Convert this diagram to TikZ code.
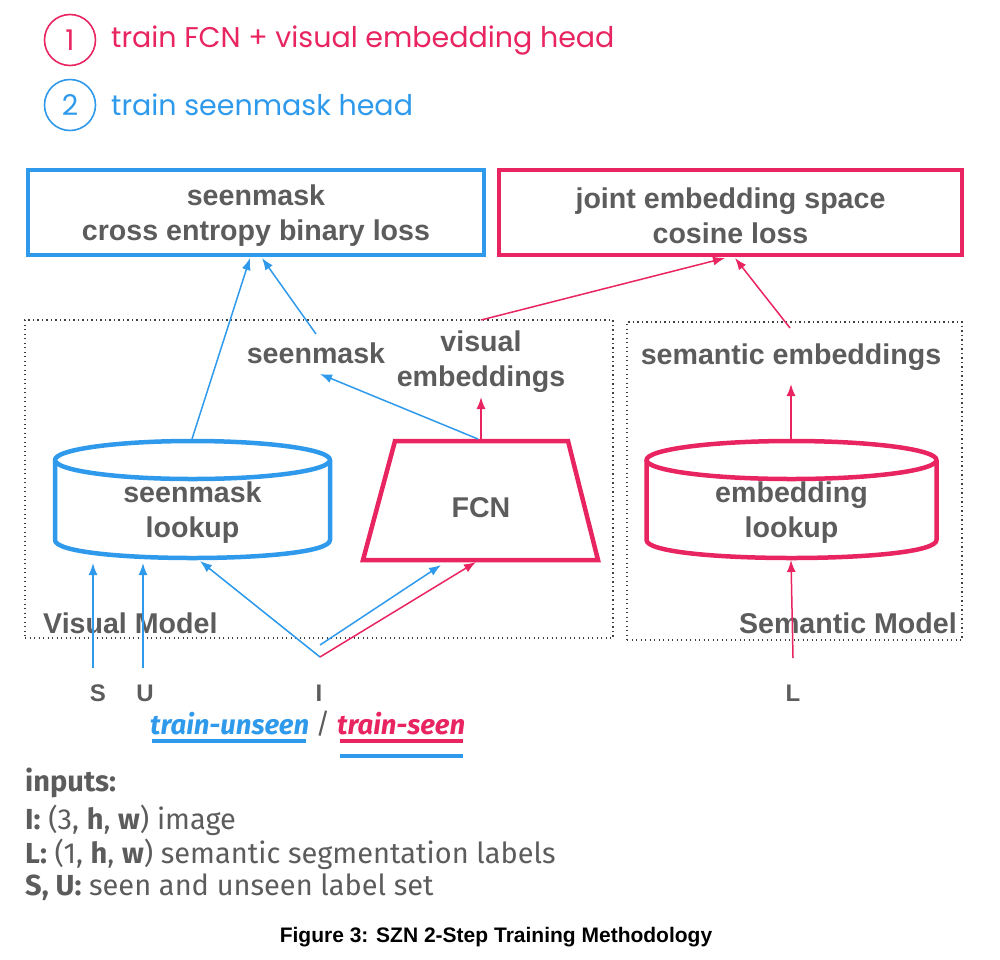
\documentclass[tikz,border=0pt]{standalone}
\usepackage{fontspec}
\setmainfont{Liberation Sans}
\newfontfamily\legendfont{Poppins}
\newfontfamily\inputfont{Fira Sans}
\usetikzlibrary{arrows.meta}
\definecolor{myblue}{RGB}{47,154,235}
\definecolor{mypink}{RGB}{232,37,96}
\definecolor{txtgray}{RGB}{92,92,92}
\begin{document}
\begin{tikzpicture}[x=1pt,y=-1pt,
  lbl/.style={font=\fontsize{28.6}{35}\selectfont\bfseries, text=txtgray, align=center, inner sep=0},
  lossbox/.style={draw, line width=4, inner sep=0},
  dotbox/.style={draw=black!75, line width=1.3, dash pattern=on 1.3pt off 3.2pt, inner sep=0},
  cylline/.style={line width=4.5, line join=round},
  barrow/.style={draw=myblue, line width=1.5, -{Latex[length=12,width=9]}},
  parrow/.style={draw=mypink, line width=1.5, -{Latex[length=12,width=9]}},
  legend/.style={font=\legendfont\fontsize{28.5}{32}\selectfont, inner sep=0},
  legcirc/.style={circle, draw, line width=1.6, minimum size=51, inner sep=0},
  inp/.style={font=\inputfont\fontsize{29}{34}\selectfont, text=txtgray, inner sep=0, anchor=west},
  trn/.style={font=\inputfont\bfseries\itshape\fontsize{27.5}{32}\selectfont, inner sep=0, anchor=west},
  letter/.style={font=\fontsize{24}{28}\selectfont\bfseries, text=txtgray, inner sep=0}]
\useasboundingbox (0,0) rectangle (1000,959);

% legend
\node[legcirc, draw=mypink, text=mypink, legend] (c1) at (70,40) {1};
\node[legend, text=mypink, anchor=west] (t1) at (111,40) {train FCN + visual embedding head};
\node[legcirc, draw=myblue, text=myblue, legend] (c2) at (70,105) {2};
\node[legend, text=myblue, anchor=west] (t2) at (111,105) {train seenmask head};

% loss boxes
\node[lossbox, draw=myblue, minimum width=456, minimum height=85] (smloss) at (256,212.5) {};
\node[lbl] (smlosstxt) at (256,216) {seenmask\\cross entropy binary loss};
\node[lossbox, draw=mypink, minimum width=463, minimum height=85] (cosloss) at (730.5,212.5) {};
\node[lbl] (coslosstxt) at (730.5,216) {joint embedding space\\cosine loss};

% model containers
\node[dotbox, minimum width=588, minimum height=318] (vm) at (319,479) {};
\node[dotbox, minimum width=335, minimum height=318] (sm) at (794.5,481) {};
\node[lbl, anchor=west] (vmlbl) at (43,623) {Visual Model};
\node[lbl, anchor=east] (smlbl2) at (957,623) {Semantic Model};

% labels
\node[lbl] (smlbl) at (316,353) {seenmask};
\node[lbl] (velbl) at (481,362) {visual\\embeddings};
\node[lbl] (selbl) at (791,357) {semantic embeddings};

% seenmask lookup cylinder
\draw[myblue, cylline] (192.5,460) ellipse [x radius=137.5, y radius=19];
\draw[myblue, cylline] (55,460) -- (55,540) .. controls (55,564) and (330,564) .. (330,540) -- (330,460);
\node[lbl] (smlook) at (192.5,513) {seenmask\\lookup};

% FCN
\draw[mypink, line width=4.5, line join=miter] (395,441) -- (568,441) -- (598,560) -- (363,560) -- cycle;
\node[lbl] (fcn) at (481,508) {FCN};

% embedding lookup cylinder
\draw[mypink, cylline] (791.5,460) ellipse [x radius=145, y radius=19];
\draw[mypink, cylline] (646.5,460) -- (646.5,540) .. controls (646.5,564) and (936.5,564) .. (936.5,540) -- (936.5,460);
\node[lbl] (emlook) at (791.5,513) {embedding\\lookup};

% input letters
\node[letter] (S) at (98,693) {S};
\node[letter] (U) at (145,693) {U};
\node[letter] (I) at (319,693) {I};
\node[letter] (L) at (793,693) {L};

% connector coordinates
\coordinate (smtop) at (192,439);
\coordinate (smlossA) at (250,258);
\coordinate (smlossB) at (262,258);
\coordinate (smlbltop) at (316,334);
\coordinate (smlblbot) at (320,374);
\coordinate (fcntopA) at (478,439);
\coordinate (fcntopB) at (481,439);
\coordinate (vebot) at (481,397);
\coordinate (vetop) at (481,320);
\coordinate (coslossA) at (725,258);
\coordinate (coslossB) at (735,258);
\coordinate (setop) at (790,328);
\coordinate (sebot) at (791,384);
\coordinate (emtop) at (791,439);
\coordinate (embot) at (791,560);
\coordinate (Lsrc) at (793,658);
\coordinate (Ssrc) at (93,668);
\coordinate (Sdst) at (93,563);
\coordinate (Usrc) at (143,668);
\coordinate (Udst) at (143,563);
\coordinate (Isrc) at (320,657);
\coordinate (Isrc2) at (320,645);
\coordinate (cylbot) at (200,561);
\coordinate (fcnbotA) at (441,565);
\coordinate (fcnbotB) at (476,562);

% connectors
\draw[barrow] (smtop) -- (smlossA);
\draw[barrow] (smlbltop) -- (smlossB);
\draw[barrow] (fcntopA) -- (smlblbot);
\draw[parrow] (fcntopB) -- (vebot);
\draw[parrow] (vetop) -- (coslossA);
\draw[parrow] (setop) -- (coslossB);
\draw[parrow] (emtop) -- (sebot);
\draw[parrow] (Lsrc) -- (embot);
\draw[barrow] (Ssrc) -- (Sdst);
\draw[barrow] (Usrc) -- (Udst);
\draw[barrow] (Isrc) -- (cylbot);
\draw[barrow] (Isrc2) -- (fcnbotA);
\draw[parrow] (Isrc) -- (fcnbotB);

% train-unseen / train-seen
\node[trn, text=myblue] (tu) at (150,724) {train-unseen};
\node[font=\inputfont\fontsize{28}{32}\selectfont, text=txtgray, inner sep=0] (slash) at (323,724) {/};
\node[trn, text=mypink] (ts) at (337,724) {train-seen};
\draw[myblue, line width=4.5] (152,741) -- (306,741);
\draw[mypink, line width=4.5] (340,741) -- (463,741);
\draw[myblue, line width=4.5] (340,756) -- (463,756);

% inputs
\node[inp, font=\inputfont\bfseries\fontsize{29}{34}\selectfont] (inph) at (25,783) {inputs:};
\node[inp] (inpI) at (25,820) {\textbf{I:} (3, \textbf{h}, \textbf{w}) image};
\node[inp] (inpL) at (25,854) {\textbf{L:} (1, \textbf{h}, \textbf{w}) semantic segmentation labels};
\node[inp] (inpS) at (25,887) {\textbf{S, U:} seen and unseen label set};

% caption
\node[font=\fontsize{21}{25}\selectfont\bfseries, inner sep=0] (cap) at (496,937) {Figure 3: SZN 2-Step Training Methodology};
\end{tikzpicture}
\end{document}
